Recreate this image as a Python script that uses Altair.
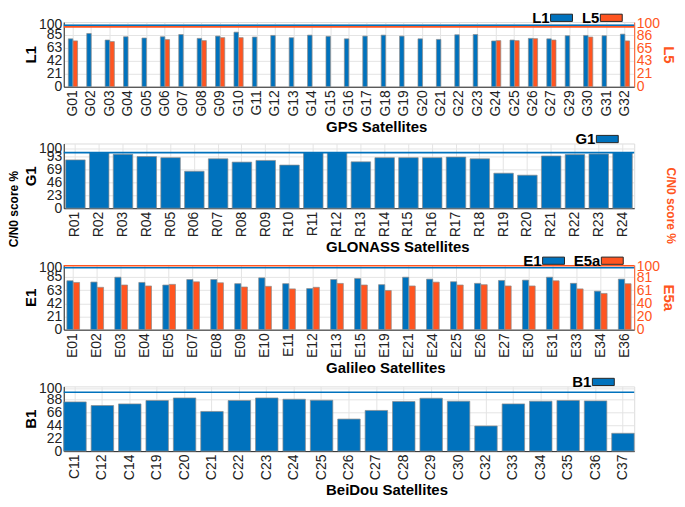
import altair as alt
import pandas as pd

BLUE = "#0072BD"
ORANGE = "#FF5521"
DARK = "#262626"
GRID = "#e4e4e4"
EDGE = "#8c8c8c"
FONT = "Liberation Sans"

# ---------------- data ----------------
gps_sats = ["G01", "G02", "G03", "G04", "G05", "G06", "G07", "G08", "G09", "G10",
            "G11", "G12", "G13", "G14", "G15", "G16", "G17", "G18", "G19", "G20",
            "G21", "G22", "G23", "G24", "G25", "G26", "G27", "G29", "G30", "G31", "G32"]
gps_l1 = [78, 86.7, 76, 81.4, 79.3, 81.4, 85, 78.7, 82.4, 88.8,
          80.9, 83.5, 79.8, 84, 82, 78, 82.4, 84, 82.4, 78,
          77, 84.6, 85, 74.5, 76, 78.7, 78, 83, 83.5, 83, 85.6]
gps_l5 = [76.5, None, 75.4, None, None, 78.7, None, 77, 82, 82,
          None, None, None, None, None, None, None, None, None, None,
          None, None, None, 77, 77, 80.3, 78, None, 83, None, 76.5]

glo_sats = ["R%02d" % i for i in range(1, 25)]
glo_g1 = [87, 100, 97, 93, 91, 66.5, 89, 83, 86, 77.6, 100, 100,
          83.5, 91, 91, 91, 92, 89, 63, 59.4, 94, 96.5, 97.6, 100]

gal_sats = ["E01", "E02", "E03", "E04", "E05", "E07", "E08", "E09", "E10", "E11",
            "E12", "E13", "E15", "E19", "E21", "E24", "E25", "E26", "E27", "E30",
            "E31", "E33", "E34", "E36"]
gal_e1 = [78.9, 76.8, 84.6, 76.2, 72, 80.9, 80.9, 74.2, 83.6, 74.2,
          66.3, 80.9, 82.5, 72.6, 84.6, 81.5, 77.3, 74.7, 79.4, 79.9,
          84.6, 74.7, 62.1, 81.5]
gal_e5a = [73.9, 66.3, 69.9, 68.4, 70.9, 74.9, 73.4, 66.8, 67.8, 63.8,
           66.3, 72.4, 69.9, 61.3, 68.4, 74.4, 69.9, 70.4, 68.4, 68.4,
           76.5, 63.8, 56.7, 71.9]

bds_sats = ["C11", "C12", "C14", "C19", "C20", "C21", "C22", "C23", "C24", "C25",
            "C26", "C27", "C28", "C29", "C30", "C32", "C33", "C34", "C35", "C36", "C37"]
bds_b1 = [83.7, 77.5, 80.3, 86, 90.4, 67.4, 86, 90.4, 88.2, 86.5,
          54.5, 69.1, 84.3, 89.9, 84.8, 42.7, 80.3, 84.8, 86, 85.4, 30.3]

ref_line = [100]

# ---------------- tick labels ----------------
gps_left_ticks = [0, 21.25, 42.5, 63.75, 85, 102]
gps_left_labels = ["0", "21", "42", "63", "85", "100"]
gps_right_ticks = [0, 21.5, 43, 64.5, 86, 106]
gps_right_labels = ["0", "21", "43", "65", "86", "100"]
glo_ticks = [0, 23.25, 46.5, 69.75, 93, 107.5]
glo_labels = ["0", "23", "46", "69", "93", "100"]
gal_left_ticks = [0, 21.25, 42.5, 63.75, 85, 101]
gal_left_labels = ["0", "21", "42", "63", "85", "100"]
gal_right_ticks = [0, 20.25, 40.5, 60.75, 81, 99.5]
gal_right_labels = ["0", "20", "40", "61", "81", "100"]
bds_ticks = [0, 22, 44, 66, 88, 106.5]
bds_labels = ["0", "22", "44", "66", "88", "100"]

W = 573
H = 65


def label_expr(values, labels):
    expr = "''"
    for v, l in reversed(list(zip(values, labels))):
        expr = f"datum.value == {v} ? '{l}' : ({expr})"
    return expr


def y_axis(ticks, labels, title, orient, color, title_color, grid):
    return alt.Axis(values=ticks, labelExpr=label_expr(ticks, labels), title=title,
                    orient=orient, labelColor=color, titleColor=title_color,
                    grid=grid, gridColor=GRID, ticks=False, domain=True,
                    domainColor=(DARK if orient == "left" else ORANGE),
                    labelFontSize=14, titleFontSize=15, titleFontWeight="bold",
                    labelPadding=2, labelOverlap=False, labelFlush=False,
                    titleX=(-25 if orient == "left" else 26), titleBaseline="bottom",
                    labelFont=FONT, titleFont=FONT)


def x_enc(sats, title, pi, po):
    return alt.X("sat:N", sort=None,
                 scale=alt.Scale(domain=sats, paddingInner=pi, paddingOuter=po),
                 axis=alt.Axis(title=title, labelAngle=-90, labelFontSize=14,
                               labelColor="#222", labelPadding=3, ticks=False,
                               domain=True, domainColor=DARK, grid=True,
                               gridColor=GRID, bandPosition=0.5,
                               titleFontSize=15, titleFontWeight="bold",
                               titleColor="black", titleAlign="left", titleX=263,
                               titlePadding=3, labelFont=FONT, titleFont=FONT))


def legend(lx):
    return alt.Legend(title=None, orient="none", legendX=lx, legendY=-12,
                      direction="horizontal", symbolType="M-2,-0.66H2V0.66H-2Z",
                      symbolSize=121, symbolStrokeColor=DARK, symbolStrokeWidth=1,
                      symbolOpacity=1, labelFontSize=15, labelFontWeight="bold",
                      labelFont=FONT, labelColor="black", labelAlign="right",
                      labelOffset={"expr": "-19.5"}, columnPadding=6)


def long_df(sats, sig, vals):
    rows = [{"sat": s, "sig": sig, "val": v} for s, v in zip(sats, vals) if v is not None]
    return pd.DataFrame(rows)


def dual_panel(sats, sigs, v1, v2, dom1, dom2, t1, l1, t2, l2, xtitle, pi, po, lx):
    X = x_enc(sats, xtitle, pi, po)
    xoff = alt.XOffset("sig:N", scale=alt.Scale(domain=sigs, paddingInner=0.05))
    col = alt.Color("sig:N", scale=alt.Scale(domain=sigs, range=[BLUE, ORANGE]),
                    legend=legend(lx))
    ax1 = y_axis(t1, l1, sigs[0], "left", "#222", "black", True)
    ax2 = y_axis(t2, l2, sigs[1], "right", ORANGE, ORANGE, False)
    ys1 = alt.Scale(domain=dom1, nice=False, zero=True)
    ys2 = alt.Scale(domain=dom2, nice=False, zero=True)
    left = alt.layer(
        alt.Chart(long_df(sats, sigs[0], v1)).mark_bar(stroke=EDGE, strokeWidth=0.7).encode(
            x=X, xOffset=xoff, y=alt.Y("val:Q", scale=ys1, axis=ax1), color=col),
        alt.Chart(pd.DataFrame({"val": ref_line})).mark_rule(color=BLUE, strokeWidth=1.6).encode(
            y=alt.Y("val:Q", scale=ys1, axis=ax1)),
    )
    right = alt.layer(
        alt.Chart(long_df(sats, sigs[1], v2)).mark_bar(stroke=EDGE, strokeWidth=0.7).encode(
            x=X, xOffset=xoff, y=alt.Y("val:Q", scale=ys2, axis=ax2), color=col),
        alt.Chart(pd.DataFrame({"val": ref_line})).mark_rule(color=ORANGE, strokeWidth=1.6).encode(
            y=alt.Y("val:Q", scale=ys2, axis=ax2)),
    )
    return alt.layer(left, right).resolve_scale(y="independent").properties(width=W, height=H)


def single_panel(sats, sig, vals, dom, ticks, labels, xtitle, pi, po, lx, extra_right=False):
    X = x_enc(sats, xtitle, pi, po)
    col = alt.Color("sig:N", scale=alt.Scale(domain=[sig], range=[BLUE]), legend=legend(lx))
    ax = y_axis(ticks, labels, sig, "left", "#222", "black", True)
    ys = alt.Scale(domain=dom, nice=False, zero=True)
    main = alt.layer(
        alt.Chart(long_df(sats, sig, vals)).mark_bar(stroke=EDGE, strokeWidth=0.7).encode(
            x=X, y=alt.Y("val:Q", scale=ys, axis=ax), color=col),
        alt.Chart(pd.DataFrame({"val": ref_line})).mark_rule(color=BLUE, strokeWidth=1.6).encode(
            y=alt.Y("val:Q", scale=ys, axis=ax)),
    )
    if extra_right:
        dummy = alt.Chart(pd.DataFrame({"val": ref_line})).mark_rule(opacity=0).encode(
            y=alt.Y("val:Q", scale=alt.Scale(domain=[0, 200]),
                    axis=alt.Axis(orient="right", title="C/N0 score %", labels=False,
                                  ticks=False, domain=False, grid=False,
                                  titleColor=ORANGE, titleFontSize=12, titleFontWeight="bold",
                                  titleFont=FONT, titleX=36, titleY=62, titleAngle=90,
                                  titleBaseline="middle", titleAlign="center")))
        main = alt.layer(main, dummy).resolve_scale(y="independent")
    return main.properties(width=W, height=H)


gps = dual_panel(gps_sats, ["L1", "L5"], gps_l1, gps_l5, [0, 105.3], [0, 108],
                 gps_left_ticks, gps_left_labels, gps_right_ticks, gps_right_labels,
                 "GPS Satellites", 0.5, 0.25, W - 80.5)
glo = single_panel(glo_sats, "G1", glo_g1, [0, 116.5], glo_ticks, glo_labels,
                   "GLONASS Satellites", 0.18, 0.08, W - 34.5, extra_right=True)
gal = dual_panel(gal_sats, ["E1", "E5a"], gal_e1, gal_e5a, [0, 104.4], [0, 101.3],
                 gal_left_ticks, gal_left_labels, gal_right_ticks, gal_right_labels,
                 "Galileo Satellites", 0.47, 0.13, W - 88.5)
bds = single_panel(bds_sats, "B1", bds_b1, [0, 110], bds_ticks, bds_labels,
                   "BeiDou Satellites", 0.18, 0.0, W - 38.5)

chart = alt.vconcat(gps, glo, gal, bds, spacing=57, bounds="flush").resolve_scale(
    color="independent", x="independent", xOffset="independent"
).resolve_legend(color="independent").properties(
    padding=0,
    title=alt.TitleParams("C/N0 score %", orient="left", anchor="middle", fontSize=12,
                          font=FONT, fontWeight="bold", color="black", offset=2, dx=45)
).configure_view(stroke=DARK, strokeWidth=1).configure(background="white")

chart.save("out.html", embed_options={"renderer": "svg", "actions": False})
